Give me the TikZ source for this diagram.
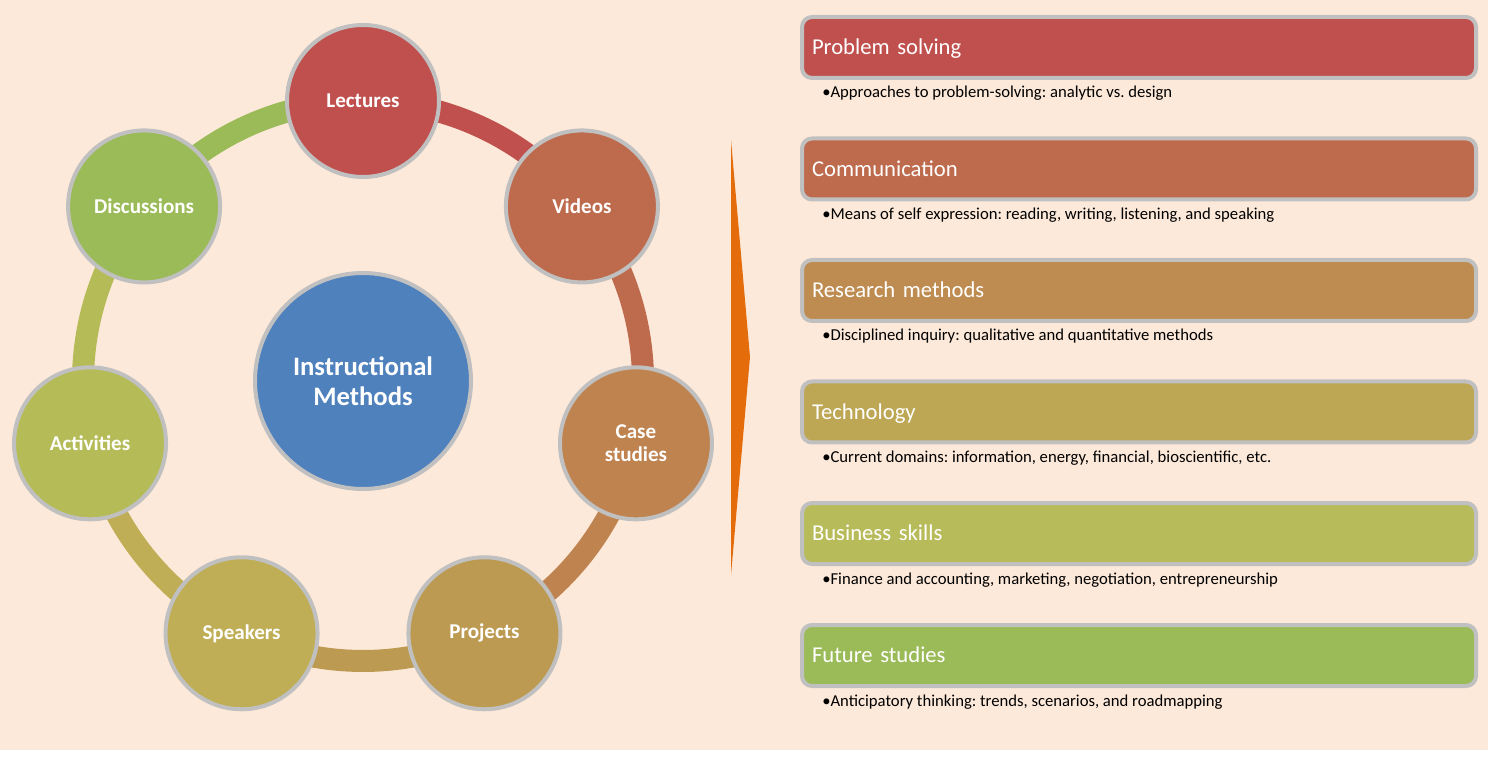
\documentclass[tikz,border=0pt]{standalone}
\usepackage{fontspec}
\setmainfont{Carlito}
\frenchspacing
\usetikzlibrary{calc,positioning}
\definecolor{Peach}{HTML}{FDE9D9}
\definecolor{Rim}{HTML}{C0C0C0}
\definecolor{HubBlue}{HTML}{4F81BD}
\definecolor{Flame}{HTML}{E46C0A}
\definecolor{LecRed}{HTML}{C0504D}
\definecolor{VidRust}{HTML}{BE6A4D}
\definecolor{CaseOchre}{HTML}{BF8350}
\definecolor{ProjTan}{HTML}{BD9A52}
\definecolor{SpkOlive}{HTML}{BFAE55}
\definecolor{ActMoss}{HTML}{B5BB57}
\definecolor{DiscGreen}{HTML}{9BBB59}
\definecolor{ResBronze}{HTML}{BE8C50}
\definecolor{TechOlive}{HTML}{BDA654}
\definecolor{BizLime}{HTML}{B8BB5A}
\pgfdeclarelayer{background}
\pgfsetlayers{background,main}
\tikzset{
  method/.style={
    circle, draw=Rim, line width=3pt, fill=#1, text=white,
    minimum size=114pt, inner sep=0pt, align=center,
    font=\fontsize{15.8}{17.25}\selectfont\bfseries
  },
  hubnode/.style={
    method=HubBlue, minimum size=162pt,
    font=\fontsize{20}{22.5}\selectfont\bfseries
  },
  ring/.style={line width=16.5pt, draw=#1},
  topic/.style={
    rounded corners=7.5pt, draw=Rim, line width=3pt, fill=#1, text=white,
    anchor=west, text width=490.5pt, inner xsep=7.5pt, minimum height=45.75pt,
    text height=11pt, text depth=0pt, align=left,
    font=\fontsize{17}{20}\selectfont
  },
  note/.style={anchor=base west, inner sep=0pt, font=\fontsize{12.5}{14}\selectfont}
}
\begin{document}
\begin{tikzpicture}[x=0.75pt,y=-0.75pt]
    \useasboundingbox (0,0) rectangle (1488,762);
    \node[hubnode] (im) at (363,381) {Instructional\\Methods};
    \node[method=LecRed] (lec) at ($(im)+(-90:280)$) {Lectures};
    \node[method=VidRust] (vid) at ($(im)+(-38.57:280)$) {Videos};
    \node[method=CaseOchre] (cas) at ($(im)+(12.86:280)$) {Case\\studies};
    \node[method=ProjTan] (prj) at ($(im)+(64.29:280)$) {Projects};
    \node[method=SpkOlive] (spk) at ($(im)+(115.71:280)$) {Speakers};
    \node[method=ActMoss] (act) at ($(im)+(167.14:280)$) {Activities};
    \node[method=DiscGreen] (dis) at ($(im)+(218.57:280)$) {Discussions};
    \begin{pgfonlayer}{background}
      \fill[Peach] (0,0) rectangle (1488,750);
      \draw[ring=LecRed] (lec.center) arc[start angle=-90, delta angle=51.43, radius=280];
      \draw[ring=VidRust] (vid.center) arc[start angle=-38.57, delta angle=51.43, radius=280];
      \draw[ring=CaseOchre] (cas.center) arc[start angle=12.86, delta angle=51.43, radius=280];
      \draw[ring=ProjTan] (prj.center) arc[start angle=64.29, delta angle=51.43, radius=280];
      \draw[ring=SpkOlive] (spk.center) arc[start angle=115.71, delta angle=51.43, radius=280];
      \draw[ring=ActMoss] (act.center) arc[start angle=167.14, delta angle=51.43, radius=280];
      \draw[ring=DiscGreen] (dis.center) arc[start angle=218.57, delta angle=51.43, radius=280];
    \end{pgfonlayer}
    \fill[Flame] (731,140) -- (750,357) -- (731,575) -- cycle;
    \node[topic=LecRed] (ps) at (800,47.5) {Problem solving};
    \node[topic=VidRust] (com) at (800,169) {Communication};
    \node[topic=ResBronze] (res) at (800,290.5) {Research methods};
    \node[topic=TechOlive] (tec) at (800,412) {Technology};
    \node[topic=BizLime] (biz) at (800,533.5) {Business skills};
    \node[topic=DiscGreen] (fut) at (800,655.5) {Future studies};
    \node[note] (psn) at ($(ps.south west)+(22,18)$) {\textbullet Approaches to problem-solving: analytic vs. design};
    \node[note] (comn) at ($(com.south west)+(22,18)$) {\textbullet Means of self expression: reading, writing, listening, and speaking};
    \node[note] (resn) at ($(res.south west)+(22,18)$) {\textbullet Disciplined inquiry: qualitative and quantitative methods};
    \node[note] (tecn) at ($(tec.south west)+(22,18)$) {\textbullet Current domains: information, energy, financial, bioscientific, etc.};
    \node[note] (bizn) at ($(biz.south west)+(22,18)$) {\textbullet Finance and accounting, marketing, negotiation, entrepreneurship};
    \node[note] (futn) at ($(fut.south west)+(22,18)$) {\textbullet Anticipatory thinking: trends, scenarios, and roadmapping};
  \end{tikzpicture}
\end{document}
